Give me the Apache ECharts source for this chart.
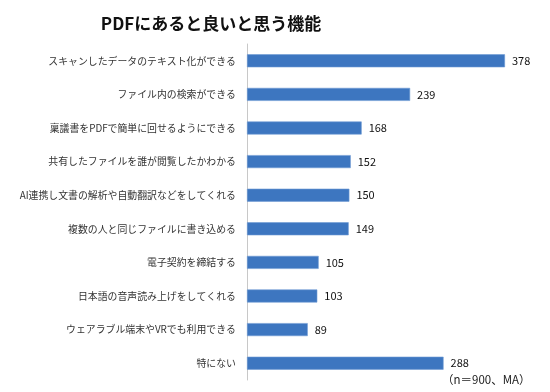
<!DOCTYPE html>
<html><head><meta charset="utf-8">
<script src="https://cdn.jsdelivr.net/npm/echarts@6/dist/echarts.min.js"></script>
<style>html,body{margin:0;padding:0;background:#fff}#c{width:550px;height:392px}</style>
</head><body><div id="c"></div>
<script>
var categories = [
  "スキャンしたデータのテキスト化ができる",
  "ファイル内の検索ができる",
  "稟議書をPDFで簡単に回せるようにできる",
  "共有したファイルを誰が閲覧したかわかる",
  "AI連携し文書の解析や自動翻訳などをしてくれる",
  "複数の人と同じファイルに書き込める",
  "電子契約を締結する",
  "日本語の音声読み上げをしてくれる",
  "ウェアラブル端末やVRでも利用できる",
  "特にない"
];
var values = [378, 239, 168, 152, 150, 149, 105, 103, 89, 288];
var titleText = "PDFにあると良いと思う機能";
var noteText = "（n＝900、MA）";

var font = "'Noto Sans CJK JP', sans-serif";
var chart = echarts.init(document.getElementById('c'), null, {renderer: 'canvas'});
chart.setOption({
  animation: false,
  title: {
    text: titleText, left: 206, top: 10, textAlign: 'center',
    textStyle: {fontFamily: font, fontSize: 17, fontWeight: 'bold', color: '#111'}
  },
  graphic: [{
    type: 'text', left: 442, top: 374,
    style: {text: noteText, fontFamily: font, fontSize: 11.5, fill: '#222'}
  }],
  grid: {left: 247, top: 44, width: 273, height: 336, containLabel: false},
  xAxis: {type: 'value', min: 0, max: 400, show: false},
  yAxis: {
    type: 'category', data: categories, inverse: true,
    axisLine: {show: true, lineStyle: {color: '#c8c8c8', width: 1}},
    axisTick: {show: false},
    axisLabel: {fontFamily: font, fontSize: 9.9, color: '#333', margin: 11}
  },
  series: [{
    type: 'bar', data: values, barWidth: 13,
    itemStyle: {color: '#3d76c0', borderColor: '#6f9bd3', borderWidth: 0.6},
    label: {show: true, position: 'right', distance: 7, fontFamily: font, fontSize: 11, color: '#111'}
  }]
});
</script></body></html>
